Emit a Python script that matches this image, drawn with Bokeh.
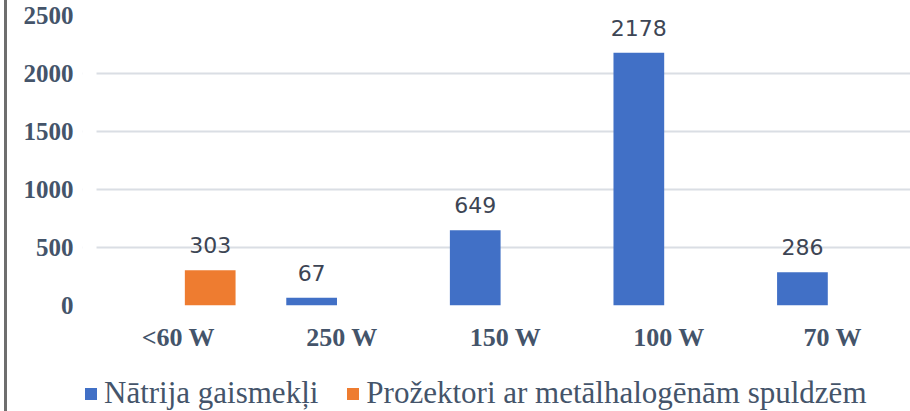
import numpy as np
from bokeh.plotting import figure
from bokeh.layouts import column
from bokeh.models import (ColumnDataSource, Range1d, FixedTicker, Legend, LegendItem, LabelSet,
                          BoxAnnotation)
from bokeh.core.properties import value
from bokeh.embed import file_html
from bokeh.resources import INLINE

# ---- data ----
categories = ["<60 W", "250 W", "150 W", "100 W", "70 W"]
natrija = [0, 67, 649, 2178, 286]
prozektori = [303, 0, 0, 0, 0]
series_names = ["Nātrija gaismekļi", "Prožektori ar metālhalogēnām spuldzēm"]
y_ticks = [0, 500, 1000, 1500, 2000, 2500]

BLUE = "#4170c6"
ORANGE = "#ee7c30"
TEXT = "#44546a"

# layout constants (pixels)
W = 910
H_MAIN, H_LEG = 370, 41
FRAME_LEFT, FRAME_TOP, FRAME_BOTTOM = 82, 15, 305
PLOT_LEFT = 96          # where the category area (and the grid) begins
CAT_PX = 163.6          # pixels per category

x_start = -(PLOT_LEFT - FRAME_LEFT) / CAT_PX
x_end = (W - PLOT_LEFT) / CAT_PX

p = figure(width=W, height=H_MAIN, output_backend="svg", toolbar_location=None,
           x_range=Range1d(x_start, x_end), y_range=Range1d(0, 2500),
           min_border_left=FRAME_LEFT, min_border_right=0, min_border_top=FRAME_TOP,
           min_border_bottom=H_MAIN - FRAME_BOTTOM)
p.outline_line_color = None
p.border_fill_color = None

centers = np.arange(len(categories)) + 0.5
off_blue, off_orange, bw = -0.185, 0.195, 0.31

def src(values, off):
    idx = [i for i, v in enumerate(values) if v]
    return ColumnDataSource(dict(x=[centers[i] + off for i in idx],
                                 top=[values[i] for i in idx],
                                 label=[str(values[i]) for i in idx]))

s_blue = src(natrija, off_blue)
s_orange = src(prozektori, off_orange)

p.vbar(x="x", top="top", width=bw, source=s_blue, fill_color=BLUE, line_color=None)
p.vbar(x="x", top="top", width=bw, source=s_orange, fill_color=ORANGE, line_color=None)

for s in (s_blue, s_orange):
    p.add_layout(LabelSet(x="x", y="top", text="label", source=s, y_offset=17,
                          text_align="center", text_baseline="alphabetic",
                          text_font=value("DejaVu Sans"), text_font_size="22px",
                          text_color="#3d4554"))

# grid (starts where the first category starts)
p.xgrid.visible = False
p.ygrid.ticker = FixedTicker(ticks=y_ticks)
p.ygrid.grid_line_color = "#dadee4"
p.ygrid.grid_line_width = 2
p.add_layout(BoxAnnotation(right=0, fill_color="white", fill_alpha=1, line_color=None))

# axes
for ax in (p.xaxis[0], p.yaxis[0]):
    ax.axis_line_color = None
    ax.major_tick_line_color = None
    ax.major_tick_out = 0
    ax.minor_tick_line_color = None
    ax.minor_tick_out = 0
    ax.major_label_text_font = "Liberation Serif"
    ax.major_label_text_font_style = "bold"
    ax.major_label_text_color = TEXT

p.yaxis.ticker = FixedTicker(ticks=y_ticks)
p.yaxis.major_label_text_font_size = "25px"
p.yaxis.major_label_standoff = 23 - (PLOT_LEFT - FRAME_LEFT)

p.xaxis.ticker = FixedTicker(ticks=list(centers))
p.xaxis.major_label_overrides = {float(c): name for c, name in zip(centers, categories)}
p.xaxis.major_label_text_font_size = "26px"
p.xaxis.major_label_standoff = 17

# ---- legend strip ----
lg = figure(width=W, height=H_LEG, output_backend="svg", toolbar_location=None,
            x_range=Range1d(0, 1), y_range=Range1d(0, 1),
            x_axis_location=None, y_axis_location=None,
            min_border=0, min_border_left=0, min_border_right=0,
            min_border_top=0, min_border_bottom=0)
lg.outline_line_color = None
lg.border_fill_color = None
lg.background_fill_color = None
lg.xgrid.visible = False
lg.ygrid.visible = False
# zero-area stand-ins that only provide the legend swatches
d_blue = lg.vbar(x=[0], top=[0], width=0, fill_color=BLUE, line_color=None)
d_orange = lg.vbar(x=[0], top=[0], width=0, fill_color=ORANGE, line_color=None)

legend = Legend(items=[LegendItem(label=series_names[0], renderers=[d_blue]),
                       LegendItem(label=series_names[1], renderers=[d_orange])],
                orientation="horizontal", location=(1, 0),
                glyph_width=15, glyph_height=15, label_standoff=6, spacing=27,
                padding=0, margin=0, border_line_color=None, background_fill_alpha=0,
                label_text_font="Liberation Serif", label_text_font_size="31px",
                label_text_color=TEXT)
lg.add_layout(legend, "center")

layout = column(p, lg, spacing=0,
                styles={"background": "linear-gradient(to right, #ffffff 4px, #6e6e6e 4px, "
                                      "#6e6e6e 7px, #ffffff 7px)"})
open("out.html", "w").write(file_html(layout, INLINE))
